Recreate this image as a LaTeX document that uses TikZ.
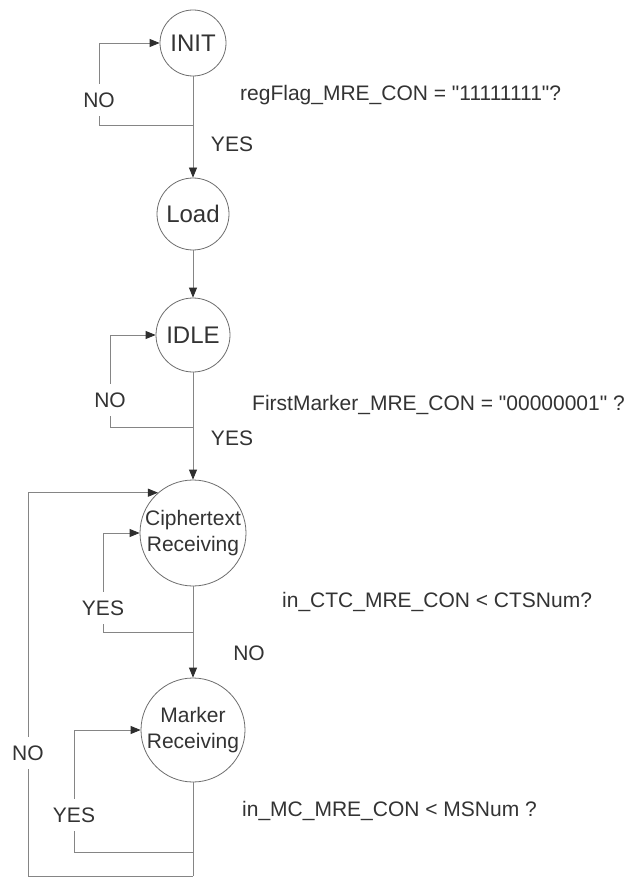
\documentclass[tikz,border=0pt]{standalone}
\usepackage{fontspec}
\setmainfont{Liberation Sans}
% same face without TeX input mapping, for straight quotes
\newfontfamily\plainface{Liberation Sans}
\usetikzlibrary{arrows.meta}
\definecolor{ink}{HTML}{333333}
\definecolor{wire}{HTML}{858585}
\definecolor{ring}{HTML}{6E6E6E}
\definecolor{tipc}{HTML}{2E2E2E}
\newcommand{\dq}{{\plainface\char34}}
\begin{document}
\begin{tikzpicture}[x=1pt,y=-1pt,
  txt/.style={text=ink,font=\fontsize{21}{25.5}\selectfont},
  bigtxt/.style={text=ink,font=\fontsize{24}{28}\selectfont},
  state/.style={circle,draw=ring,line width=0.8pt,inner sep=0pt,align=center,txt},
  flow/.style={draw=wire,line width=0.8pt},
  arr/.style={flow,-{Triangle[length=10pt,width=8pt,color=tipc]}},
  onwire/.style={fill=white,inner xsep=2pt,inner ysep=9pt,txt},
  side/.style={inner sep=0pt,txt},
  cond/.style={anchor=base west,inner sep=0pt,txt}]
\useasboundingbox[fill=white] (0,0) rectangle (630,877);

% states
\node[state,bigtxt,minimum size=66pt] (init) at (193,43) {INIT};
\node[state,bigtxt,minimum size=72pt] (load) at (193,214) {Load};
\node[state,bigtxt,minimum size=74pt] (idle) at (193,335) {IDLE};
\node[state,minimum size=106pt] (ctr) at (193,533) {Ciphertext\\Receiving};
\node[state,minimum size=104pt] (mkr) at (193,730) {Marker\\Receiving};

% junctions on the main column
\coordinate (j1) at (193,125);
\coordinate (j2) at (193,427);
\coordinate (j3) at (193,632);
\coordinate (j4) at (193,852);
\coordinate (j5) at (193,876);

% INIT -> Load, with wait loop
\draw[flow] (init) -- (j1);
\draw[arr] (j1) -- (load);
\draw[arr] (j1) -- ++(-94,0) |- (init.west);

% Load -> IDLE
\draw[arr] (load) -- (idle);

% IDLE -> Ciphertext Receiving, with wait loop
\draw[flow] (idle) -- (j2);
\draw[arr] (j2) -- (ctr);
\draw[arr] (j2) -- ++(-83,0) |- (idle.west);

% Ciphertext Receiving -> Marker Receiving, with repeat loop
\draw[flow] (ctr) -- (j3);
\draw[arr] (j3) -- (mkr);
\draw[arr] (j3) -- ++(-90,0) |- (ctr.west);

% Marker Receiving repeat loop and return to Ciphertext Receiving
\draw[flow] (mkr) -- (j5);
\draw[arr] (j4) -- ++(-119,0) |- (mkr.west);
\draw[arr] (j5) -- ++(-165,0) |- (ctr.131);

% branch labels
\node[onwire] (no1) at (99,100) {NO};
\node[side] (yes1) at (232,144) {YES};
\node[onwire] (no2) at (110,400) {NO};
\node[side] (yes2) at (232,438) {YES};
\node[onwire] (yes3) at (103,608) {YES};
\node[side] (no3) at (249,653) {NO};
\node[onwire] (no4) at (28,753) {NO};
\node[onwire] (yes4) at (74,815) {YES};

% conditions
\node[cond] (c1) at (240,101) {regFlag\_MRE\_CON = \dq11111111\dq?};
\node[cond] (c2) at (252,410) {FirstMarker\_MRE\_CON = \dq00000001\dq{} ?};
\node[cond] (c3) at (282,607) {in\_CTC\_MRE\_CON < CTSNum?};
\node[cond] (c4) at (242,816) {in\_MC\_MRE\_CON < MSNum ?};
\end{tikzpicture}
\end{document}
